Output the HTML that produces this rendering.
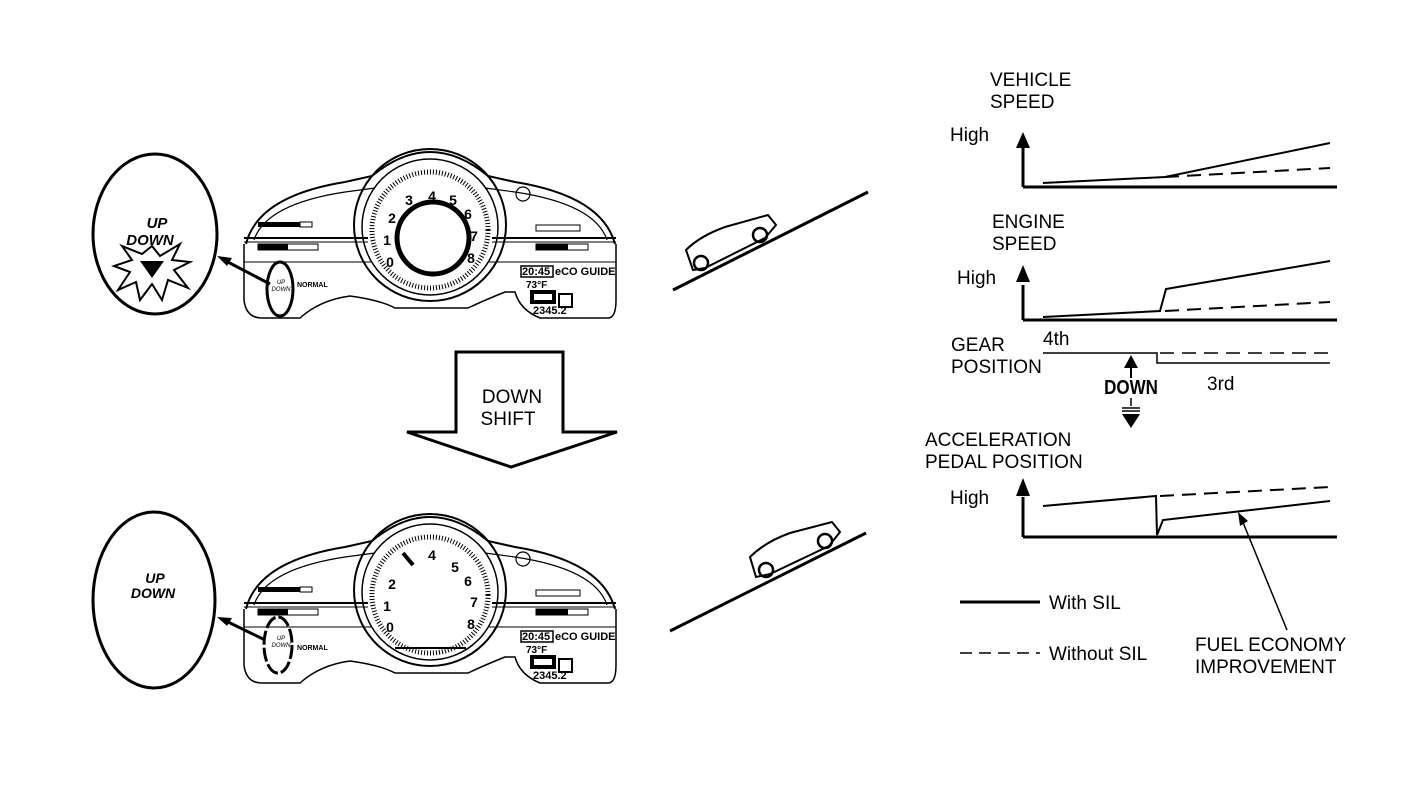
<!DOCTYPE html>
<html><head><meta charset="utf-8"><style>
html,body{margin:0;padding:0;background:#fff}
svg{display:block}
text{font-family:"Liberation Sans",sans-serif;fill:#000}
</style></head><body>
<svg width="1408" height="804" viewBox="0 0 1408 804" xmlns="http://www.w3.org/2000/svg">
<defs>
<g id="dash" fill="none" stroke="#000">
 <path d="M246,244 Q258,196 345,182 L372,176 Q430,128 488,176 L515,182 Q602,196 615,244" stroke-width="2"/>
 <path d="M254,240 Q266,204 345,192 L375,188 M485,188 L515,192 Q595,204 607,240" stroke-width="1.2"/>
 <path d="M244,244 L244,300 Q246,318 262,318 L300,318 Q320,300 350,296 Q380,300 395,308 L468,308 Q485,300 505,292 L515,292 Q520,310 540,318 L608,318 Q616,318 616,300 L616,244" stroke-width="1.5"/>
 <line x1="244" y1="238" x2="368" y2="238" stroke-width="2"/>
 <line x1="244" y1="242" x2="368" y2="242" stroke-width="1"/>
 <line x1="492" y1="238" x2="616" y2="238" stroke-width="2"/>
 <line x1="492" y1="242" x2="616" y2="242" stroke-width="1"/>
 <line x1="244" y1="262" x2="372" y2="262" stroke-width="1"/>
 <line x1="488" y1="262" x2="616" y2="262" stroke-width="1"/>
 <circle cx="430" cy="225" r="76" stroke-width="2"/>
 <circle cx="430" cy="227" r="68" stroke-width="1.5"/>
 <circle cx="430" cy="230" r="58" stroke-width="5" stroke-dasharray="1 2" />
 <circle cx="523" cy="194" r="7" stroke-width="1.2"/>
 <rect x="258" y="222" width="42" height="5" fill="#000" stroke="none"/>
 <rect x="300" y="222" width="12" height="5" stroke-width="1"/>
 <rect x="258" y="244" width="60" height="6" stroke-width="1"/>
 <rect x="258" y="244" width="30" height="6" fill="#000" stroke="none"/>
 <rect x="536" y="225" width="44" height="6" stroke-width="1"/>
 <rect x="536" y="244" width="52" height="6" stroke-width="1"/>
 <rect x="536" y="244" width="32" height="6" fill="#000" stroke="none"/>
 <rect x="521" y="266" width="32" height="11" stroke-width="1.5"/>
 <rect x="559" y="294" width="13" height="13" stroke-width="2"/>
 <rect x="532" y="292" width="22" height="10" stroke-width="4"/>
</g>
</defs>

<!-- TOP -->
<use href="#dash"/>
<g font-weight="bold" font-size="14" text-anchor="middle">
<text x="409" y="205">3</text><text x="432" y="201">4</text><text x="453" y="205">5</text>
<text x="392" y="223">2</text><text x="468" y="219">6</text><text x="387" y="245">1</text><text x="474" y="241">7</text>
<text x="390" y="267">0</text><text x="471" y="263">8</text>
</g>
<circle cx="433" cy="238" r="36" fill="none" stroke="#000" stroke-width="5"/>
<text x="522" y="275" font-size="11" font-weight="bold">20:45</text>
<text x="555" y="275" font-size="11" font-weight="bold">eCO GUIDE</text>
<text x="526" y="288" font-size="10" font-weight="bold">73°F</text>
<text x="533" y="314" font-size="11" font-weight="bold">2345.2</text>
<text x="297" y="287" font-size="7" font-weight="bold">NORMAL</text>
<text x="281" y="284" font-size="6" font-style="italic" text-anchor="middle">UP</text>
<text x="281" y="291" font-size="6" font-style="italic" text-anchor="middle">DOWN</text>
<ellipse cx="280" cy="289" rx="13" ry="27" fill="none" stroke="#000" stroke-width="3"/>
<line x1="270" y1="284" x2="224" y2="260" stroke="#000" stroke-width="3"/>
<polygon points="217,256 232,258 227,266" fill="#000"/>
<ellipse cx="155" cy="234" rx="62" ry="80" fill="none" stroke="#000" stroke-width="3"/>
<text x="157" y="228" font-size="15" font-weight="bold" font-style="italic" text-anchor="middle">UP</text>
<text x="150" y="245" font-size="15" font-weight="bold" font-style="italic" text-anchor="middle">DOWN</text>
<polygon points="152,246 160,256 180,244 172,260 190,262 174,270 188,288 168,280 162,300 152,284 140,300 136,282 118,290 130,272 114,266 132,260 122,246 142,254" fill="none" stroke="#000" stroke-width="2"/>
<polygon points="140,261 164,261 152,278" fill="#000"/>

<!-- arrow -->
<path d="M456,352 L563,352 L563,432 L617,432 L511,467 L407,432 L456,432 Z" fill="#fff" stroke="#000" stroke-width="3"/>
<text x="512" y="403" font-size="19" text-anchor="middle">DOWN</text>
<text x="508" y="425" font-size="19" text-anchor="middle">SHIFT</text>

<!-- BOTTOM -->
<g transform="translate(0,365)"><use href="#dash"/></g>
<g font-weight="bold" font-size="14" text-anchor="middle">
<text x="432" y="560">4</text><text x="455" y="572">5</text>
<text x="392" y="589">2</text><text x="468" y="586">6</text><text x="387" y="611">1</text><text x="474" y="607">7</text>
<text x="390" y="632">0</text><text x="471" y="629">8</text>
</g>
<line x1="403" y1="553" x2="413" y2="565" stroke="#000" stroke-width="4"/>
<line x1="395" y1="648" x2="466" y2="648" stroke="#000" stroke-width="2"/>
<text x="522" y="640" font-size="11" font-weight="bold">20:45</text>
<text x="555" y="640" font-size="11" font-weight="bold">eCO GUIDE</text>
<text x="526" y="653" font-size="10" font-weight="bold">73°F</text>
<text x="533" y="679" font-size="11" font-weight="bold">2345.2</text>
<text x="297" y="650" font-size="7" font-weight="bold">NORMAL</text>
<text x="281" y="640" font-size="6" font-style="italic" text-anchor="middle">UP</text>
<text x="281" y="647" font-size="6" font-style="italic" text-anchor="middle">DOWN</text>
<ellipse cx="278" cy="645" rx="14" ry="28" fill="none" stroke="#000" stroke-width="3" stroke-dasharray="14 3"/>
<line x1="265" y1="640" x2="224" y2="620" stroke="#000" stroke-width="3"/>
<polygon points="217,617 232,618 227,626" fill="#000"/>
<ellipse cx="154" cy="600" rx="61" ry="88" fill="none" stroke="#000" stroke-width="3"/>
<text x="155" y="583" font-size="14" font-weight="bold" font-style="italic" text-anchor="middle">UP</text>
<text x="153" y="598" font-size="14" font-weight="bold" font-style="italic" text-anchor="middle">DOWN</text>

<!-- slopes & cars -->
<g fill="none" stroke="#000">
<line x1="673" y1="290" x2="868" y2="192" stroke-width="3"/>
<line x1="670" y1="631" x2="866" y2="533" stroke-width="3"/>
<path d="M693,270 L686,250 Q700,236 725,227 L768,215 L776,225 L765,238 L705,268 Z" stroke-width="2"/>
<circle cx="701" cy="263" r="7" stroke-width="2.5"/>
<circle cx="760" cy="235" r="7" stroke-width="2.5"/>
<path d="M756,577 L750,557 Q765,542 790,533 L832,522 L840,532 L829,546 L770,574 Z" stroke-width="2"/>
<circle cx="766" cy="570" r="7" stroke-width="2.5"/>
<circle cx="825" cy="541" r="7" stroke-width="2.5"/>
</g>

<!-- graphs -->
<g font-size="19">
<text x="990" y="86">VEHICLE</text><text x="990" y="108">SPEED</text><text x="950" y="141">High</text>
<text x="992" y="228">ENGINE</text><text x="992" y="250">SPEED</text><text x="957" y="284">High</text>
<text x="951" y="351">GEAR</text><text x="951" y="373">POSITION</text>
<text x="1043" y="345">4th</text><text x="1207" y="390">3rd</text>
<text x="925" y="446">ACCELERATION</text><text x="925" y="468">PEDAL POSITION</text><text x="950" y="504">High</text>
<text x="1049" y="609">With SIL</text><text x="1049" y="660">Without SIL</text>
<text x="1195" y="651">FUEL ECONOMY</text><text x="1195" y="673">IMPROVEMENT</text>
</g>
<text x="1131" y="394" font-size="20" font-weight="bold" text-anchor="middle" transform="translate(1131,0) scale(0.85,1) translate(-1131,0)">DOWN</text>
<g stroke="#000" fill="none">
<line x1="1023" y1="187" x2="1337" y2="187" stroke-width="3"/>
<line x1="1023" y1="145" x2="1023" y2="187" stroke-width="3"/>
<path d="M1043,183 L1165,177 L1330,143" stroke-width="2"/>
<path d="M1165,177 L1330,168" stroke-width="2" stroke-dasharray="14 8"/>
<line x1="1023" y1="320" x2="1337" y2="320" stroke-width="3"/>
<line x1="1023" y1="285" x2="1023" y2="320" stroke-width="3"/>
<path d="M1043,317 L1160,311 L1166,289 L1330,261" stroke-width="2"/>
<path d="M1165,311 L1330,302" stroke-width="2" stroke-dasharray="14 8"/>
<path d="M1043,353 L1157,353 L1157,363 L1330,363" stroke-width="1.5"/>
<path d="M1160,353 L1330,353" stroke-width="1.5" stroke-dasharray="14 8"/>
<line x1="1131" y1="366" x2="1131" y2="378" stroke-width="2"/>
<line x1="1131" y1="398" x2="1131" y2="406" stroke-width="1.5"/>
<line x1="1122" y1="408" x2="1140" y2="408" stroke-width="1.5"/>
<line x1="1122" y1="411" x2="1140" y2="411" stroke-width="1.5"/>
<line x1="1023" y1="537" x2="1337" y2="537" stroke-width="3"/>
<line x1="1023" y1="497" x2="1023" y2="537" stroke-width="3"/>
<path d="M1043,506 L1156,496 L1157,535 L1163,520 L1330,501" stroke-width="2"/>
<path d="M1160,496 L1330,487" stroke-width="2" stroke-dasharray="14 8"/>
<line x1="1242" y1="520" x2="1287" y2="630" stroke-width="1.5"/>
<line x1="960" y1="602" x2="1040" y2="602" stroke-width="3"/>
<line x1="960" y1="653" x2="1040" y2="653" stroke-width="1.5" stroke-dasharray="12 7"/>
</g>
<g fill="#000">
<polygon points="1023,132 1016,148 1030,148"/>
<polygon points="1023,265 1016,282 1030,282"/>
<polygon points="1023,478 1016,496 1030,496"/>
<polygon points="1131,355 1124,368 1138,368"/>
<polygon points="1122,414 1140,414 1131,428"/>
<polygon points="1238,512 1240,526 1248,521"/>
</g>
</svg>
</body></html>
